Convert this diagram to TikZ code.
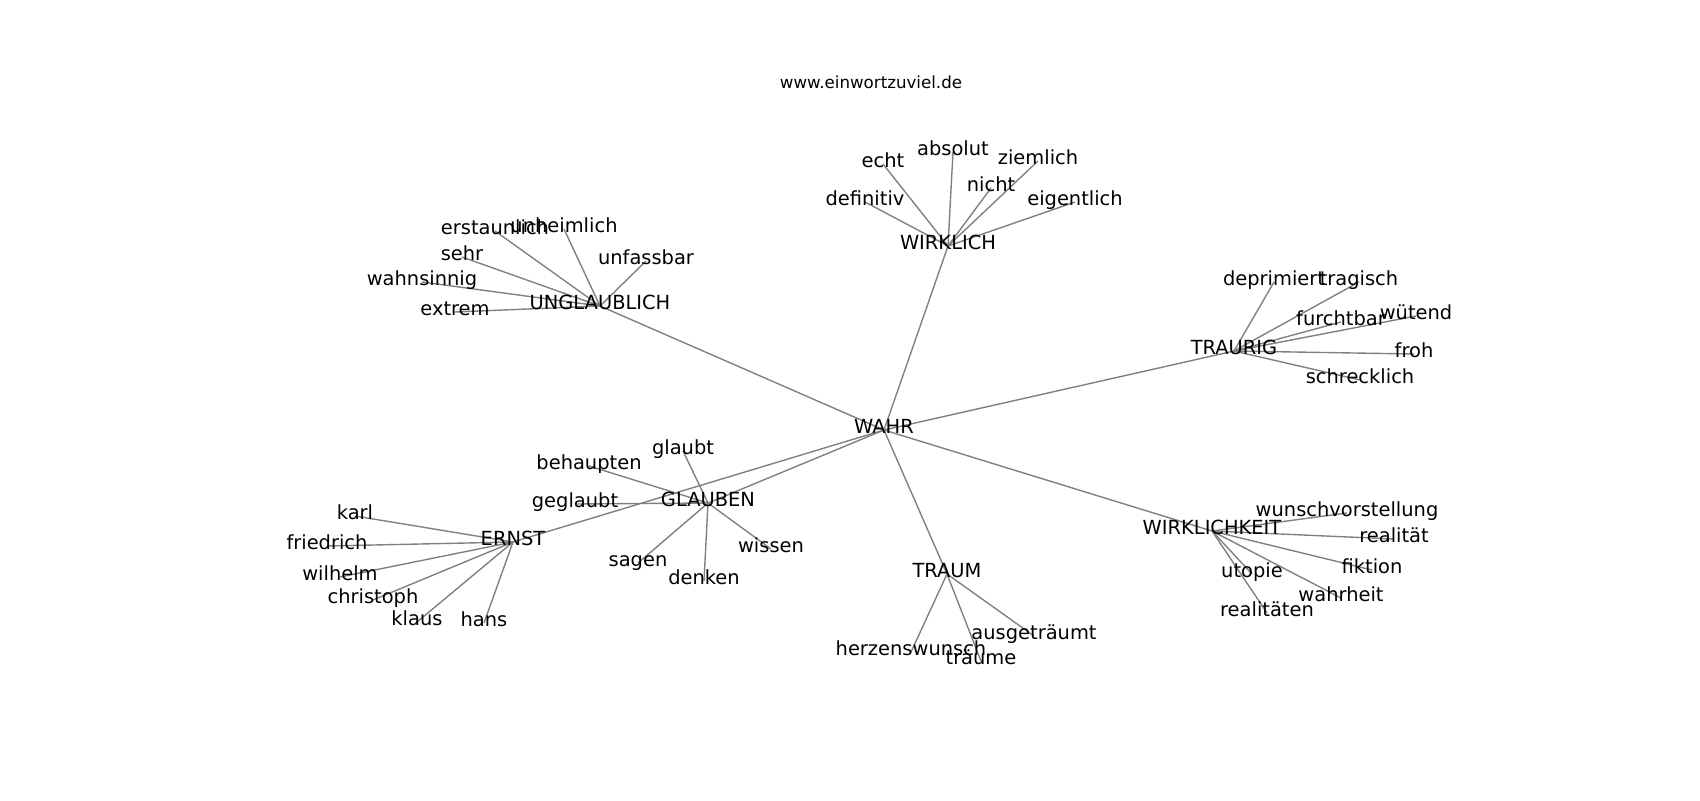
\documentclass[tikz,border=0pt]{standalone}
\usepackage{fontspec}
\setmainfont{DejaVu Sans}
\usepackage{tikz}
\usetikzlibrary{backgrounds}
\tikzset{word/.style={inner sep=0pt,text height=0.76em,text depth=0.24em,
        font=\fontsize{14pt}{16pt}\selectfont},
    site/.style={word,font=\fontsize{12pt}{14pt}\selectfont},
    link/.style={draw=black!50,line width=1pt}}

\begin{document}
\begin{tikzpicture}[x=0.72pt,y=-0.72pt]
\useasboundingbox (0,0) rectangle (1700,800);
\node[site] (site) at (871,85) {www.einwortzuviel.de};
% hubs
\node[word] (wahr) at (884,430) {WAHR};
\node[word] (unglaublich) at (600,306) {UNGLAUBLICH};
\node[word] (wirklich) at (948,246) {WIRKLICH};
\node[word] (traurig) at (1234,351) {TRAURIG};
\node[word] (ernst) at (513,542) {ERNST};
\node[word] (glauben) at (708,503) {GLAUBEN};
\node[word] (traum) at (947,574) {TRAUM};
\node[word] (wirklichkeit) at (1212,531) {WIRKLICHKEIT};
% leaves
\node[word] (erstaunlich) at (495,231) {erstaunlich};
\node[word] (unheimlich) at (564,229) {unheimlich};
\node[word] (sehr) at (462,257) {sehr};
\node[word] (unfassbar) at (646,261) {unfassbar};
\node[word] (wahnsinnig) at (422,282) {wahnsinnig};
\node[word] (extrem) at (455,312) {extrem};
\node[word] (echt) at (883,164) {echt};
\node[word] (absolut) at (953,152) {absolut};
\node[word] (ziemlich) at (1038,161) {ziemlich};
\node[word] (nicht) at (991,188) {nicht};
\node[word] (definitiv) at (865,202) {definitiv};
\node[word] (eigentlich) at (1075,202) {eigentlich};
\node[word] (deprimiert) at (1274,282) {deprimiert};
\node[word] (tragisch) at (1359,282) {tragisch};
\node[word] (furchtbar) at (1341,322) {furchtbar};
\node[word] (wuetend) at (1416,316) {wütend};
\node[word] (froh) at (1414,354) {froh};
\node[word] (schrecklich) at (1360,380) {schrecklich};
\node[word] (karl) at (355,516) {karl};
\node[word] (friedrich) at (327,546) {friedrich};
\node[word] (wilhelm) at (340,577) {wilhelm};
\node[word] (christoph) at (373,600) {christoph};
\node[word] (klaus) at (417,622) {klaus};
\node[word] (hans) at (484,623) {hans};
\node[word] (glaubt) at (683,451) {glaubt};
\node[word] (behaupten) at (589,466) {behaupten};
\node[word] (geglaubt) at (575,504) {geglaubt};
\node[word] (sagen) at (638,563) {sagen};
\node[word] (denken) at (704,581) {denken};
\node[word] (wissen) at (771,549) {wissen};
\node[word] (herzenswunsch) at (911,652) {herzenswunsch};
\node[word] (traeume) at (981,661) {träume};
\node[word] (ausgetraeumt) at (1034,636) {ausgeträumt};
\node[word] (wunschvorstellung) at (1347,513) {wunschvorstellung};
\node[word] (realitaet) at (1394,539) {realität};
\node[word] (fiktion) at (1372,570) {fiktion};
\node[word] (utopie) at (1252,574) {utopie};
\node[word] (wahrheit) at (1341,598) {wahrheit};
\node[word] (realitaeten) at (1267,613) {realitäten};

\begin{scope}[on background layer]
\draw[link] (wahr.center) -- (unglaublich.center);
\draw[link] (wahr.center) -- (wirklich.center);
\draw[link] (wahr.center) -- (traurig.center);
\draw[link] (wahr.center) -- (ernst.center);
\draw[link] (wahr.center) -- (glauben.center);
\draw[link] (wahr.center) -- (traum.center);
\draw[link] (wahr.center) -- (wirklichkeit.center);
\draw[link] (unglaublich.center) -- (erstaunlich.center);
\draw[link] (unglaublich.center) -- (unheimlich.center);
\draw[link] (unglaublich.center) -- (sehr.center);
\draw[link] (unglaublich.center) -- (unfassbar.center);
\draw[link] (unglaublich.center) -- (wahnsinnig.center);
\draw[link] (unglaublich.center) -- (extrem.center);
\draw[link] (wirklich.center) -- (echt.center);
\draw[link] (wirklich.center) -- (absolut.center);
\draw[link] (wirklich.center) -- (ziemlich.center);
\draw[link] (wirklich.center) -- (nicht.center);
\draw[link] (wirklich.center) -- (definitiv.center);
\draw[link] (wirklich.center) -- (eigentlich.center);
\draw[link] (traurig.center) -- (deprimiert.center);
\draw[link] (traurig.center) -- (tragisch.center);
\draw[link] (traurig.center) -- (furchtbar.center);
\draw[link] (traurig.center) -- (wuetend.center);
\draw[link] (traurig.center) -- (froh.center);
\draw[link] (traurig.center) -- (schrecklich.center);
\draw[link] (ernst.center) -- (karl.center);
\draw[link] (ernst.center) -- (friedrich.center);
\draw[link] (ernst.center) -- (wilhelm.center);
\draw[link] (ernst.center) -- (christoph.center);
\draw[link] (ernst.center) -- (klaus.center);
\draw[link] (ernst.center) -- (hans.center);
\draw[link] (glauben.center) -- (glaubt.center);
\draw[link] (glauben.center) -- (behaupten.center);
\draw[link] (glauben.center) -- (geglaubt.center);
\draw[link] (glauben.center) -- (sagen.center);
\draw[link] (glauben.center) -- (denken.center);
\draw[link] (glauben.center) -- (wissen.center);
\draw[link] (traum.center) -- (herzenswunsch.center);
\draw[link] (traum.center) -- (traeume.center);
\draw[link] (traum.center) -- (ausgetraeumt.center);
\draw[link] (wirklichkeit.center) -- (wunschvorstellung.center);
\draw[link] (wirklichkeit.center) -- (realitaet.center);
\draw[link] (wirklichkeit.center) -- (fiktion.center);
\draw[link] (wirklichkeit.center) -- (utopie.center);
\draw[link] (wirklichkeit.center) -- (wahrheit.center);
\draw[link] (wirklichkeit.center) -- (realitaeten.center);
\end{scope}
\end{tikzpicture}
\end{document}
